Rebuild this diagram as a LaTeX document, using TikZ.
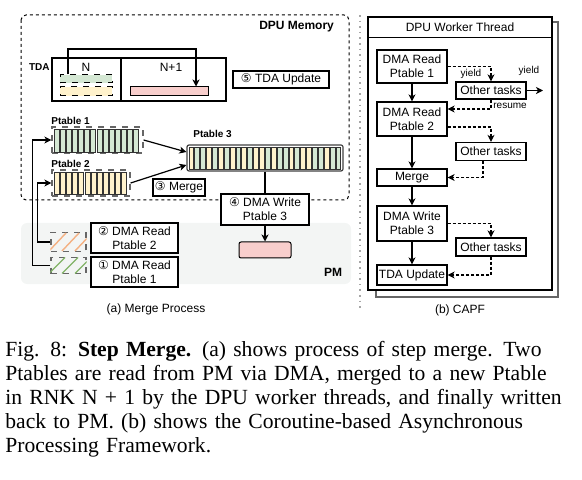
\documentclass[tikz,border=0pt]{standalone}
\usepackage{fontspec}
\setmainfont{Liberation Serif}
\setsansfont{Liberation Sans}
\newfontfamily\circfont{DejaVu Sans}
\usetikzlibrary{arrows.meta}
\definecolor{cg}{HTML}{D5E8D4}
\definecolor{cy}{HTML}{FFF2CC}
\definecolor{cp}{HTML}{F8CECC}
\definecolor{hg}{HTML}{82B366}
\definecolor{ho}{HTML}{F4B183}
\definecolor{pmgray}{HTML}{F3F5F4}
\newcommand{\cnum}[1]{{\circfont #1}}
\hyphenpenalty=10000
\exhyphenpenalty=10000

\begin{document}
\begin{tikzpicture}[x=0.5pt,y=-0.5pt,
	every node/.style={font=\sffamily\fontsize{6}{7}\selectfont},
	box/.style={draw,line width=0.6pt,fill=white,align=center,inner sep=0pt},
	bar/.style={draw,line width=0.5pt,inner sep=0pt},
	dbox/.style={draw=black!60,dashed,line width=0.6pt,inner sep=0pt},
	cell/.style={draw=black!80,line width=0.45pt},
	lbl/.style={font=\sffamily\bfseries\fontsize{5}{6}\selectfont,inner sep=0pt},
	small/.style={font=\sffamily\fontsize{5}{6}\selectfont,inner sep=0pt},
	arr/.style={-{Stealth[length=3.5pt,width=3.5pt,inset=1pt]},line width=0.6pt},
	darr/.style={arr,dash pattern=on 1.5pt off 1pt},
	]
\useasboundingbox (0,0) rectangle (582,480);

% The PM area
\fill[pmgray,rounded corners=3pt] (21,223) rectangle (351,284);
\node[font=\sffamily\bfseries\fontsize{6}{7}\selectfont] (pmlbl) at (333,272) {PM};

% The DPU memory
\draw[dash pattern=on 1.5pt off 1.5pt,line width=0.5pt,rounded corners=2.5pt] (21,15) rectangle (349,200);
\node[anchor=east,font=\sffamily\bfseries\fontsize{6}{7}\selectfont] (memlbl) at (341,27) {DPU Memory};

% The TDA
\node[draw,line width=0.6pt,minimum width=87pt,minimum height=21.5pt,inner sep=0pt] (tda) at (139,79.5) {};
\draw[line width=0.6pt] (121,58) -- (121,101);
\node[lbl,anchor=east] (tdalbl) at (50,67) {TDA};
\node (tdan) at (86,67) {N};
\node (tdanone) at (171,67) {N+1};
\node[bar,dashed,fill=cg,minimum width=26pt,minimum height=4pt] (tdag) at (86,79) {};
\node[bar,dashed,fill=cy,minimum width=26pt,minimum height=4.5pt] (tday) at (86,91.5) {};
\node[bar,fill=cp,minimum width=39pt,minimum height=4.5pt] (tdap) at (169,91.5) {};
\coordinate (tdaup) at (196,49);
\draw[arr] ([xshift=-9pt]tdag.north) |- (tdaup) -- (tdaup |- tdap.north);
\node[box,minimum width=48pt,minimum height=8.5pt] (upd) at (281,79.5) {\cnum{⑤} TDA Update};

% The Ptables
\node[lbl,anchor=west] (ptonelbl) at (51,121) {Ptable 1};
\node[dbox,minimum width=45.5pt,minimum height=13pt] (ptone) at (97.5,140) {};
\foreach \i in {0,...,13}{
\draw[cell,fill=cg] (54.5+6.07*\i,129) rectangle ++(5,23);
}
\node[lbl,anchor=west] (pttwolbl) at (51,164) {Ptable 2};
\node[dbox,minimum width=39pt,minimum height=13pt] (pttwo) at (91,183) {};
\foreach \i in {0,...,11}{
\draw[cell,fill=cy] (54.5+6.1*\i,172) rectangle ++(5,22);
}
\node[lbl,anchor=west] (ptthreelbl) at (193,134) {Ptable 3};
\node[draw=black!75,line width=0.6pt,rounded corners=1pt,minimum width=78pt,minimum height=13pt,inner sep=0pt] (ptthree) at (265,158) {};
\foreach \c [count=\i from 0] in {cy,cg,cg,cy,cg,cy,cg,cy,cg,cy,cg,cy,cy,cg,cy,cg,cg,cy,cg,cy,cy,cg,cg,cy,cg,cg}{
\draw[cell,fill=\c] (189+5.88*\i,147) rectangle ++(4.9,22);
}
\draw[arr] (ptone.east) -- ([yshift=3pt]ptthree.west);
\draw[arr] (pttwo.east) -- ([yshift=-3.5pt]ptthree.west);
\node[box,minimum width=26pt,minimum height=8.5pt] (merge) at (179,187.5) {\cnum{③} Merge};

% Write back to PM
\node[box,minimum width=44pt,minimum height=15.5pt] (dmaw) at (265,209.5) {\cnum{④} DMA Write\\Ptable 3};
\node[bar,fill=cp,rounded corners=1pt,minimum width=26pt,minimum height=8pt] (pmbox) at (265,250) {};
\draw[line width=0.6pt] (ptthree.south) -- (dmaw.north);
\draw[arr] (dmaw.south) -- (pmbox.north);

% Read from PM
\node[dbox,minimum width=17.5pt,minimum height=9.5pt] (hatchtwo) at (68.5,242) {};
\node[dbox,minimum width=17.5pt,minimum height=8pt] (hatchone) at (68.5,265.5) {};
\begin{scope}
\clip (hatchtwo.south west) rectangle (hatchtwo.north east);
\foreach \x in {49,62,75}{
\draw[ho,line width=0.7pt] (\x,251) -- ++(17,-18);
}
\end{scope}
\begin{scope}
\clip (hatchone.south west) rectangle (hatchone.north east);
\foreach \x in {49,62,75}{
\draw[hg,line width=0.7pt] (\x,273.5) -- ++(16,-16);
}
\end{scope}
\node[box,minimum width=43.5pt,minimum height=15pt] (rdtwo) at (134.5,238) {\cnum{②} DMA Read\\Ptable 2};
\node[box,minimum width=43.5pt,minimum height=15pt] (rdone) at (134.5,272) {\cnum{①} DMA Read\\Ptable 1};
\draw[arr] (hatchone.west) -- ++(-9pt,0) |- (ptone.west);
\draw[arr] (hatchtwo.west) -- ++(-6.5pt,0) |- (pttwo.west);
\node (capa) at (156,309) {(a) Merge Process};

% The worker thread
\draw[black!35,dotted,line width=0.8pt] (360,15) -- (360,310);
\node[draw=black!60,line width=0.6pt,fill=white,minimum width=91pt,minimum height=137.5pt,inner sep=0pt] (thrback) at (467,159.5) {};
\node[draw,line width=0.7pt,fill=white,minimum width=92pt,minimum height=136.5pt,inner sep=0pt] (thr) at (460,153.5) {};
\draw[line width=0.6pt] ([yshift=-10.5pt]thr.north west) -- ([yshift=-10.5pt]thr.north east);
\node (thrlbl) at (460,27.5) {DPU Worker Thread};

\node[box,minimum width=35pt,minimum height=16.5pt] (rda) at (412,66.5) {DMA Read\\Ptable 1};
\node[box,minimum width=35pt,minimum height=17pt] (rdb) at (412,119) {DMA Read\\Ptable 2};
\node[box,minimum width=35pt,minimum height=8.5pt] (mrg) at (412,177.5) {Merge};
\node[box,minimum width=35pt,minimum height=17.5pt] (wrt) at (412,223.5) {DMA Write\\Ptable 3};
\node[box,minimum width=35pt,minimum height=10pt] (tdau) at (412,275) {TDA Update};
\node[box,minimum width=35pt,minimum height=8.5pt] (otone) at (491,90.5) {Other tasks};
\node[box,minimum width=35pt,minimum height=9pt] (ottwo) at (491,151.5) {Other tasks};
\node[box,minimum width=35pt,minimum height=9pt] (otthree) at (491,247) {Other tasks};

\draw[arr] (rda) -- (rdb);
\draw[arr] (rdb) -- (mrg);
\draw[arr] (mrg) -- (wrt);
\draw[arr] (wrt) -- (tdau);

\draw[darr] (rda.east) -| (otone.north);
\node[small] (yieldone) at (471,74) {yield};
\coordinate (ynext) at (543,90.5);
\draw[arr] (otone.east) -- (ynext);
\node[small] (yieldtwo) at (529,71) {yield};
\draw[darr] (otone.south) |- ([yshift=5pt]rdb.east);
\node[small,anchor=west] (resume) at (493,106) {resume};
\draw[darr] ([yshift=-4pt]rdb.east) -| (ottwo.north);
\draw[darr] ([xshift=-4pt]ottwo.south) |- (mrg.east);
\draw[darr] (wrt.east) -| (otthree.north);
\draw[darr] (otthree.south) |- (tdau.east);
\node (capb) at (460,310) {(b) CAPF};

% The caption
\node[anchor=north west,inner sep=0pt,text width=286.5pt,font=\rmfamily\fontsize{10.8}{12}\selectfont] (cap) at (5,341)
{Fig. 8: \textbf{Step Merge.} (a) shows process of step merge. Two\linebreak
Ptables are read from PM via DMA, merged to a new Ptable\linebreak
in RNK N + 1 by the DPU worker threads, and finally written\linebreak
back to PM. (b) shows the Coroutine-based Asynchronous\linebreak
Processing Framework.};

\end{tikzpicture}
\end{document}
